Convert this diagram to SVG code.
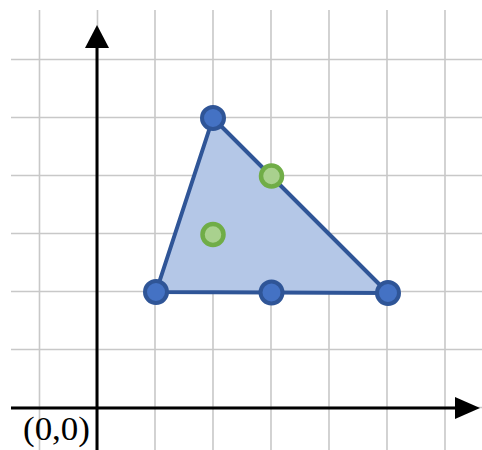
<svg xmlns="http://www.w3.org/2000/svg" width="482" height="450" viewBox="0 0 482 450">
<defs>
<style>
.grid{stroke:#c8c8c8;stroke-width:1.6;fill:none}
.axis{stroke:#000;stroke-width:3;fill:none}
.tri{fill:#b4c7e7;stroke:#2f5597;stroke-width:4;stroke-linejoin:round}
.vb{fill:#4472c4;stroke:#2f5597;stroke-width:4}
.vg{fill:#a9d18e;stroke:#70ad47;stroke-width:4.5}
.lbl{font-family:"Liberation Serif","Times New Roman",serif;font-size:34px;fill:#000}
</style>
</defs>
<g id="grid">
<path class="grid" d="M39.5 10V450M97.5 10V450M155 10V450M213 10V450M271 10V450M329 10V450M387 10V450M445 10V450"/>
<path class="grid" d="M11 59.5H482M11 117.5H482M11 175.5H482M11 233.5H482M11 291.5H482M11 349.5H482M11 407.5H482"/>
</g>
<g id="axes">
<path class="axis" d="M97 450V46"/>
<polygon points="85,48 109,48 97,25" fill="#000"/>
<path class="axis" d="M11 408H457"/>
<polygon points="455,397 455,419 480,408" fill="#000"/>
</g>
<g id="triangle">
<polygon class="tri" points="156,292 213,118 388,293"/>
</g>
<g id="v1"><circle class="vb" cx="213" cy="118" r="11"/></g>
<g id="v2"><circle class="vb" cx="156" cy="292" r="11"/></g>
<g id="v3"><circle class="vb" cx="271.5" cy="292.5" r="11"/></g>
<g id="v4"><circle class="vb" cx="388" cy="293" r="11"/></g>
<g id="g1"><circle class="vg" cx="271.5" cy="176" r="10.5"/></g>
<g id="g2"><circle class="vg" cx="213" cy="234.5" r="10.5"/></g>
<g id="origin"><text class="lbl" x="23" y="440" textLength="67" lengthAdjust="spacingAndGlyphs">(0,0)</text></g>
</svg>
